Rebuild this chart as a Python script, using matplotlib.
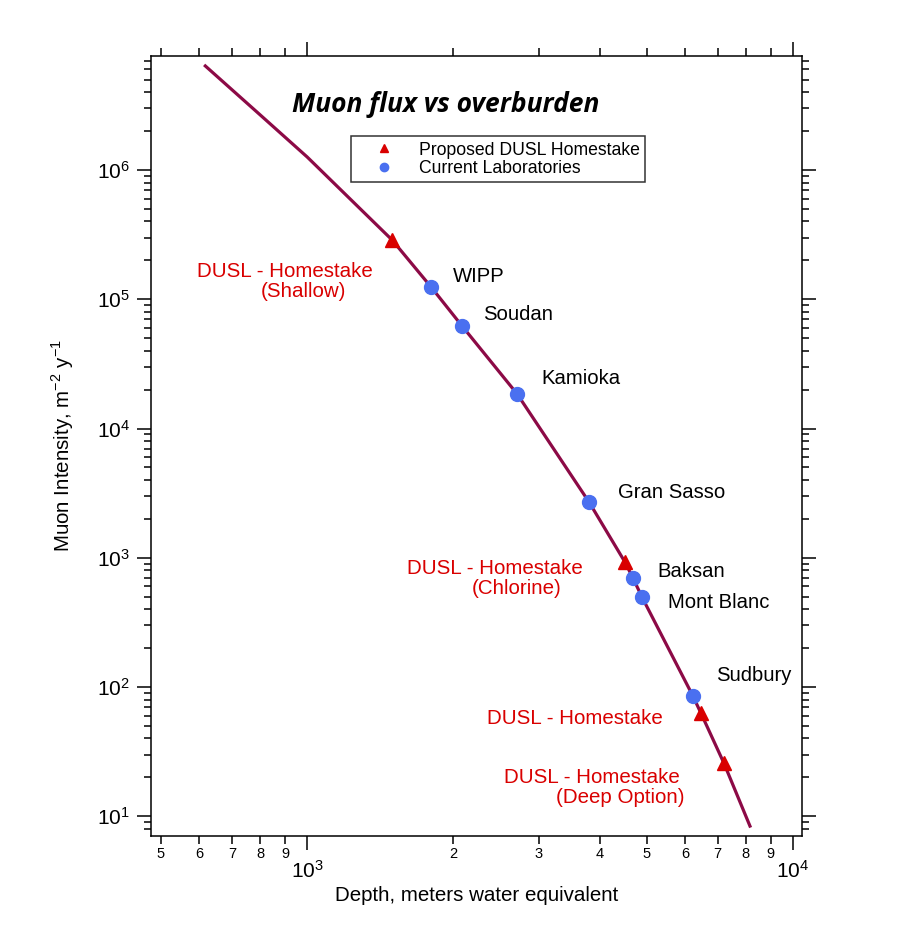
import numpy as np
import matplotlib.pyplot as plt
from matplotlib.ticker import FixedLocator, FixedFormatter, LogLocator, NullFormatter

plt.rcParams['font.family'] = ['Liberation Sans', 'DejaVu Sans']

# curve: muon intensity vs depth (m.w.e.)
curve_depth = [617, 800, 1000, 1496, 1800, 2084, 2705, 3805, 4510, 4685, 4890, 6225, 6465, 7210, 8155]
curve_flux = [6.38e6, 2.67e6, 1.26e6, 2.87e5, 1.24e5, 6.2e4, 1.85e4, 2.69e3, 925, 695, 495, 85, 62.7, 25.7, 8.4]

# current laboratories
lab_names = ["WIPP", "Soudan", "Kamioka", "Gran Sasso", "Baksan", "Mont Blanc", "Sudbury"]
lab_depth = [1800, 2084, 2705, 3805, 4685, 4890, 6225]
lab_flux = [1.24e5, 6.2e4, 1.85e4, 2.69e3, 695, 495, 85]

# proposed DUSL Homestake levels
dusl_names = [["DUSL - Homestake", "(Shallow)"], ["DUSL - Homestake", "(Chlorine)"],
              ["DUSL - Homestake"], ["DUSL - Homestake", "(Deep Option)"]]
dusl_depth = [1496, 4510, 6465, 7210]
dusl_flux = [2.87e5, 925, 62.7, 25.7]

x_major = [1000, 10000]
x_major_labels = [r"$\mathregular{10^{3}}$", r"$\mathregular{10^{4}}$"]
x_minor = [500, 600, 700, 800, 900, 2000, 3000, 4000, 5000, 6000, 7000, 8000, 9000]
x_minor_labels = ["5", "6", "7", "8", "9", "2", "3", "4", "5", "6", "7", "8", "9"]
y_major = [1e1, 1e2, 1e3, 1e4, 1e5, 1e6]
y_major_labels = [r"$\mathregular{10^{%d}}$" % k for k in range(1, 7)]

fig = plt.figure(figsize=(9, 9.44), dpi=100)
ax = fig.add_axes([0.1678, 0.1144, 0.7233, 0.8263])

line_col = "#8c0a46"
red = "#d90000"
blue = "#4a70f0"

ax.plot(curve_depth, curve_flux, color=line_col, lw=2.3, zorder=2)
ax.plot(dusl_depth, dusl_flux, "^", color=red, ms=10, ls="none", zorder=3,
        label="Proposed DUSL Homestake")
ax.plot(lab_depth, lab_flux, "o", color=blue, ms=10, ls="none", zorder=3,
        label="Current Laboratories")

ax.set_xscale("log")
ax.set_yscale("log")
ax.set_xlim(477, 10435)
ax.set_ylim(7.04, 7.62e6)

ax.xaxis.set_major_locator(FixedLocator(x_major))
ax.xaxis.set_major_formatter(FixedFormatter(x_major_labels))
ax.xaxis.set_minor_locator(FixedLocator(x_minor))
ax.xaxis.set_minor_formatter(FixedFormatter(x_minor_labels))
ax.yaxis.set_major_locator(FixedLocator(y_major))
ax.yaxis.set_major_formatter(FixedFormatter(y_major_labels))
ax.yaxis.set_minor_locator(LogLocator(base=10, subs=np.arange(2, 10), numticks=20))
ax.yaxis.set_minor_formatter(NullFormatter())

for s in ax.spines.values():
    s.set_linewidth(1.1)
ax.tick_params(which="both", direction="out", top=True, right=True, width=1.1, colors="black")
ax.tick_params(axis="x", which="major", length=10, pad=7, labelsize=15)
ax.tick_params(axis="x", which="minor", length=5.5, pad=2.5, labelsize=10.5)
ax.tick_params(axis="y", which="major", length=10, pad=5, labelsize=15)
ax.tick_params(axis="y", which="minor", length=5)

ax.set_xlabel("Depth, meters water equivalent", fontsize=14.8, labelpad=3)
ax.set_ylabel(r"Muon Intensity, m$^{\mathregular{-2}}$ y$^{\mathregular{-1}}$", fontsize=14.8, labelpad=15)

ax.text(0.453, 0.938, "Muon flux vs overburden", transform=ax.transAxes, ha="center", va="center",
        fontsize=19, fontweight="bold", fontstyle="italic", family="Open Sans")

leg = ax.legend(loc="upper left", bbox_to_anchor=(0.307, 0.897), fontsize=12.7, frameon=True,
                fancybox=False, edgecolor="black", markerscale=0.6, handlelength=3.2,
                handletextpad=0.35, borderpad=0.3, labelspacing=0.08, borderaxespad=0)
leg.get_frame().set_linewidth(1.1)

# lab labels, offset in pixels from each marker
lab_offsets = [(22, 11), (21, 12), (24, 15), (29, 10), (24, 7), (26, -5), (23, 21)]
for name, d, f, off in zip(lab_names, lab_depth, lab_flux, lab_offsets):
    ax.annotate(name, (d, f), xytext=off, textcoords="offset pixels",
                ha="left", va="center", fontsize=14.6)

# DUSL labels: (right end of line 1, centre of line 2) in pixel offsets
dusl_offsets = [[(-19, -31, "right"), (-89, -51, "center")],
                [(-42, -6, "right"), (-108, -26, "center")],
                [(-38, -5, "right")],
                [(-44, -14, "right"), (-39, -34, "right")]]
for lines, d, f, offs in zip(dusl_names, dusl_depth, dusl_flux, dusl_offsets):
    for txt, (dx, dy, ha) in zip(lines, offs):
        ax.annotate(txt, (d, f), xytext=(dx, dy), textcoords="offset pixels",
                    ha=ha, va="center", fontsize=14.8, color=red)

fig.savefig("out.png", dpi=100)
